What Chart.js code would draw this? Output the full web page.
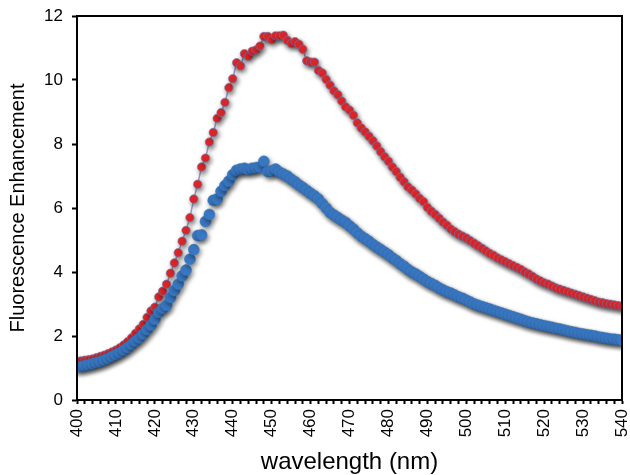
<!DOCTYPE html>
<html>
<head>
<meta charset="utf-8">
<script src="https://cdn.jsdelivr.net/npm/chart.js@4"></script>
<style>
  html, body { margin: 0; padding: 0; background: #fff; }
  #wrap { width: 630px; height: 475px; }
</style>
</head>
<body>
<div id="wrap"><canvas id="spectrumChart" width="630" height="475"></canvas></div>
<script>
// wavelength (nm), one reading per nm
const wavelengthStart = 400;
const xTickLabels = [400, 410, 420, 430, 440, 450, 460, 470, 480, 490, 500, 510, 520, 530, 540];
const yTickLabels = [0, 2, 4, 6, 8, 10, 12];

// red series (upper curve)
const redValues = [
  1.20, 1.22, 1.24, 1.26, 1.28, 1.32, 1.36, 1.40, 1.45, 1.50,   // 400-409
  1.56, 1.63, 1.72, 1.82, 1.94, 2.08, 2.22, 2.36, 2.58, 2.78,   // 410-419
  2.90, 3.22, 3.40, 3.62, 3.96, 4.28, 4.60, 4.96, 5.30, 5.70,   // 420-429
  6.28, 6.74, 7.28, 7.56, 8.06, 8.36, 8.80, 8.98, 9.30, 9.76,   // 430-439
  10.04, 10.54, 10.44, 10.82, 10.74, 10.90, 10.94, 11.06, 11.36, 11.36, // 440-449
  11.26, 11.38, 11.38, 11.40, 11.24, 11.14, 11.20, 11.12, 10.96, 10.60, // 450-459
  10.56, 10.56, 10.30, 10.22, 10.02, 9.84, 9.66, 9.54, 9.34, 9.16,      // 460-469
  9.06, 8.90, 8.66, 8.50, 8.38, 8.24, 8.10, 7.94, 7.76, 7.60,   // 470-479
  7.46, 7.28, 7.14, 6.96, 6.82, 6.66, 6.56, 6.44, 6.30, 6.20,   // 480-489
  6.02, 5.90, 5.80, 5.68, 5.56, 5.46, 5.34, 5.26, 5.18, 5.12,   // 490-499
  5.06, 4.98, 4.90, 4.82, 4.74, 4.66, 4.58, 4.52, 4.44, 4.38,   // 500-509
  4.32, 4.26, 4.20, 4.14, 4.08, 4.00, 3.94, 3.86, 3.78, 3.72,   // 510-519
  3.66, 3.62, 3.56, 3.50, 3.46, 3.42, 3.38, 3.34, 3.30, 3.26,   // 520-529
  3.22, 3.18, 3.14, 3.10, 3.06, 3.04, 3.01, 2.99, 2.97, 2.95,   // 530-539
  2.93                                                          // 540
];

// blue series (lower curve)
const blueValues = [
  1.05, 1.04, 1.08, 1.10, 1.13, 1.17, 1.20, 1.25, 1.30, 1.36,   // 400-409
  1.42, 1.48, 1.56, 1.64, 1.74, 1.84, 1.94, 2.06, 2.20, 2.34,   // 410-419
  2.52, 2.74, 2.86, 2.96, 3.20, 3.42, 3.62, 3.88, 4.06, 4.40,   // 420-429
  4.70, 5.14, 5.16, 5.58, 5.80, 6.24, 6.28, 6.52, 6.70, 6.84,   // 430-439
  7.04, 7.18, 7.22, 7.24, 7.20, 7.24, 7.26, 7.28, 7.46, 7.14,   // 440-449
  7.16, 7.22, 7.12, 7.06, 7.00, 6.90, 6.82, 6.72, 6.64, 6.55,   // 450-459
  6.46, 6.38, 6.28, 6.14, 6.00, 5.86, 5.78, 5.70, 5.62, 5.55,   // 460-469
  5.44, 5.34, 5.22, 5.12, 5.04, 4.96, 4.86, 4.78, 4.70, 4.62,   // 470-479
  4.54, 4.44, 4.36, 4.26, 4.18, 4.08, 4.00, 3.94, 3.86, 3.78,   // 480-489
  3.70, 3.64, 3.58, 3.50, 3.44, 3.38, 3.34, 3.28, 3.22, 3.18,   // 490-499
  3.12, 3.06, 3.00, 2.96, 2.92, 2.88, 2.84, 2.80, 2.76, 2.72,   // 500-509
  2.68, 2.64, 2.60, 2.56, 2.52, 2.48, 2.44, 2.41, 2.38, 2.35,   // 510-519
  2.32, 2.30, 2.27, 2.24, 2.22, 2.19, 2.16, 2.13, 2.11, 2.08,   // 520-529
  2.06, 2.04, 2.02, 2.00, 1.97, 1.95, 1.93, 1.91, 1.90, 1.88,   // 530-539
  1.87                                                          // 540
];

const FONT = 'Arial, "Liberation Sans", Helvetica, sans-serif';

const toPoints = (vals) => vals.map((v, i) => ({ x: wavelengthStart + i, y: v }));

// soft drop shadow under the markers
const shadowPlugin = {
  id: 'shadow',
  beforeDatasetDraw(chart) {
    const ctx = chart.ctx;
    ctx.save();
    ctx.shadowColor = 'rgba(0, 0, 0, 0.5)';
    ctx.shadowBlur = 5;
    ctx.shadowOffsetX = 1.5;
    ctx.shadowOffsetY = 2.5;
  },
  afterDatasetDraw(chart) {
    chart.ctx.restore();
  }
};

// box round the plot area
const framePlugin = {
  id: 'frame',
  afterDraw(chart) {
    const { ctx, chartArea: a } = chart;
    ctx.save();
    ctx.strokeStyle = '#000';
    ctx.lineWidth = 2;
    ctx.strokeRect(a.left, a.top, a.right - a.left, a.bottom - a.top);
    ctx.restore();
  }
};

const ctx = document.getElementById('spectrumChart').getContext('2d');

new Chart(ctx, {
  type: 'scatter',
  data: {
    datasets: [
      {
        label: 'blue',
        data: toPoints(blueValues),
        pointRadius: 5.5,
        pointBackgroundColor: '#3b7bc8',
        pointBorderColor: '#3a74b8',
        pointBorderWidth: 0.5,
        showLine: false,
      },
      {
        label: 'red',
        data: toPoints(redValues),
        pointRadius: 4.2,
        pointBackgroundColor: '#e3282b',
        pointBorderColor: 'rgba(110, 120, 175, 0.8)',
        pointBorderWidth: 0.8,
        showLine: true,
        borderColor: 'rgba(110, 120, 175, 0.7)',
        borderWidth: 1.5,
      },
    ],
  },
  options: {
    responsive: false,
    animation: false,
    layout: { padding: { top: 16, right: 8, left: 0, bottom: 0 } },
    plugins: {
      legend: { display: false },
      tooltip: { enabled: false },
    },
    scales: {
      x: {
        type: 'linear',
        min: 400,
        max: 540,
        afterFit(scale) {
          scale.height = 75;
          scale.paddingLeft = 0;
          scale.paddingRight = 0;
        },
        afterBuildTicks(scale) {
          const t = [];
          for (let v = 400; v <= 540; v += 2) t.push({ value: v });
          scale.ticks = t;
        },
        ticks: {
          autoSkip: false,
          minRotation: 90,
          maxRotation: 90,
          padding: 5,
          color: '#000',
          font: { family: FONT, size: 17 },
          callback: (v) => (xTickLabels.includes(v) ? String(v) : ''),
        },
        grid: {
          drawOnChartArea: false,
          tickLength: 4,
          tickColor: '#000',
          tickWidth: 2,
        },
        border: { display: true, color: '#000', width: 2 },
        title: {
          display: true,
          text: 'wavelength (nm)',
          color: '#000',
          font: { family: FONT, size: 24, lineHeight: 1.0 },
          padding: { top: 0, bottom: 1 },
        },
      },
      y: {
        min: 0,
        max: 12,
        afterFit(scale) {
          scale.width = 77;
          scale.paddingTop = 0;
          scale.paddingBottom = 0;
        },
        afterBuildTicks(scale) {
          scale.ticks = yTickLabels.map((v) => ({ value: v }));
        },
        ticks: {
          padding: 9,
          color: '#000',
          font: { family: FONT, size: 17 },
        },
        grid: {
          drawOnChartArea: false,
          tickLength: 5,
          tickColor: '#000',
          tickWidth: 2,
        },
        border: { display: true, color: '#000', width: 2 },
        title: {
          display: true,
          text: 'Fluorescence Enhancement',
          color: '#000',
          font: { family: FONT, size: 20 },
          padding: { top: 6, bottom: 3 },
        },
      },
    },
  },
  plugins: [shadowPlugin, framePlugin],
});
</script>
</body>
</html>
